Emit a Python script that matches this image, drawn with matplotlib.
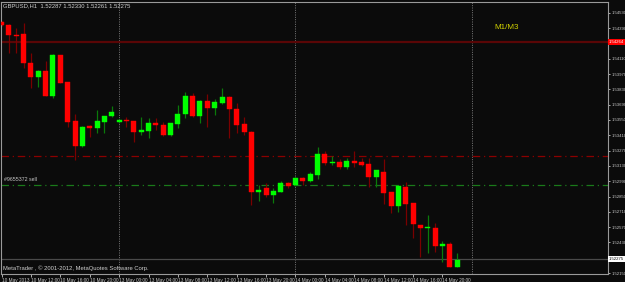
import matplotlib
matplotlib.use("Agg")
import matplotlib.pyplot as plt

plt.rcParams['font.family'] = ['Liberation Sans Narrow', 'Liberation Sans', 'DejaVu Sans']

# GBPUSD H1 bars, 10 May 2013 08:00 .. 14 May 2013 22:00
opens = [1.54449, 1.54422, 1.54330, 1.54334, 1.54074, 1.53943, 1.53998, 1.53772, 1.54145, 1.53895,
         1.53541, 1.53309, 1.53489, 1.53480, 1.53532, 1.53584, 1.53536, 1.53547, 1.53541, 1.53437,
         1.53452, 1.53520, 1.53504, 1.53413, 1.53516, 1.53602, 1.53772, 1.53589, 1.53724, 1.53657,
         1.53706, 1.53760, 1.53651, 1.53516, 1.53443, 1.52891, 1.52925, 1.52864, 1.52891, 1.52974,
         1.52955, 1.53017, 1.52992, 1.53047, 1.53236, 1.53157, 1.53163, 1.53120, 1.53175, 1.53168,
         1.53150, 1.53028, 1.53077, 1.52888, 1.52763, 1.52940, 1.52788, 1.52586, 1.52562, 1.52559,
         1.52394, 1.52415, 1.52208]
highs = [1.54456, 1.54424, 1.54392, 1.54435, 1.54160, 1.54007, 1.54090, 1.54151, 1.54148, 1.53897,
         1.53605, 1.53495, 1.53504, 1.53641, 1.53591, 1.53678, 1.53562, 1.53575, 1.53544, 1.53575,
         1.53565, 1.53565, 1.53534, 1.53525, 1.53687, 1.53803, 1.53800, 1.53733, 1.53788, 1.53742,
         1.53843, 1.53765, 1.53703, 1.53575, 1.53445, 1.52955, 1.52976, 1.52931, 1.52995, 1.52985,
         1.53031, 1.53028, 1.53077, 1.53306, 1.53266, 1.53221, 1.53190, 1.53200, 1.53269, 1.53200,
         1.53200, 1.53092, 1.53193, 1.52891, 1.52958, 1.52985, 1.52791, 1.52589, 1.52681, 1.52605,
         1.52446, 1.52431, 1.52330]
lows = [1.54410, 1.54166, 1.54166, 1.54029, 1.53846, 1.53855, 1.53770, 1.53749, 1.53889, 1.53483,
        1.53184, 1.53303, 1.53392, 1.53434, 1.53434, 1.53577, 1.53520, 1.53489, 1.53351, 1.53413,
        1.53388, 1.53458, 1.53408, 1.53406, 1.53480, 1.53565, 1.53577, 1.53520, 1.53489, 1.53596,
        1.53696, 1.53383, 1.53428, 1.53413, 1.52772, 1.52812, 1.52845, 1.52793, 1.52887, 1.52925,
        1.52946, 1.52955, 1.52983, 1.53007, 1.53138, 1.53138, 1.53099, 1.53099, 1.53123, 1.53129,
        1.52934, 1.52940, 1.52781, 1.52696, 1.52711, 1.52589, 1.52468, 1.52294, 1.52336, 1.52345,
        1.52253, 1.52205, 1.52205]
closes = [1.54419, 1.54328, 1.54321, 1.54074, 1.53946, 1.53998, 1.53772, 1.54145, 1.53891, 1.53534,
          1.53315, 1.53486, 1.53481, 1.53538, 1.53587, 1.53623, 1.53544, 1.53538, 1.53437, 1.53458,
          1.53520, 1.53507, 1.53413, 1.53520, 1.53608, 1.53772, 1.53584, 1.53724, 1.53657, 1.53712,
          1.53760, 1.53651, 1.53504, 1.53443, 1.52894, 1.52907, 1.52864, 1.52900, 1.52974, 1.52949,
          1.53017, 1.52992, 1.53053, 1.53236, 1.53157, 1.53168, 1.53120, 1.53175, 1.53157, 1.53138,
          1.53028, 1.53090, 1.52882, 1.52763, 1.52949, 1.52781, 1.52598, 1.52559, 1.52568, 1.52397,
          1.52418, 1.52208, 1.52272]

time_labels = ["10 May 2013", "10 May 12:00", "10 May 16:00", "10 May 20:00",
               "13 May 00:00", "13 May 04:00", "13 May 08:00", "13 May 12:00",
               "13 May 16:00", "13 May 20:00", "14 May 00:00", "14 May 04:00",
               "14 May 08:00", "14 May 12:00", "14 May 16:00", "14 May 20:00"]
time_bars = [0, 4, 8, 12, 16, 20, 24, 28, 32, 36, 40, 44, 48, 52, 56, 60]
day_breaks = [16, 40, 64]

price_ticks = [1.52150, 1.52430, 1.52570, 1.52710, 1.52850, 1.52990, 1.53130, 1.53270,
               1.53410, 1.53550, 1.53690, 1.53830, 1.53970, 1.54110, 1.54390, 1.54530]

take_profit = 1.54264
order_open = 1.53221
stop_level = 1.52955
bid = 1.52275

bg = "#0b0b0b"
fig = plt.figure(figsize=(6.25, 2.82), dpi=100, facecolor=bg)
ax = fig.add_axes([1 / 625, 8 / 282, 607 / 625, 272.5 / 282])
ax.set_facecolor(bg)
ax.set_xlim(-0.07, 82.52)
ax.set_ylim(1.52141, 1.54634)

for sp in ax.spines.values():
    sp.set_color("#9a9a9a")
    sp.set_linewidth(0.8)

# day separators
for d in day_breaks:
    ax.axvline(d, color="#8a8a8a", lw=0.6, ls=(0, (1.2, 1.6)), zorder=1)

# order levels
ax.axhline(take_profit, color="#5a0606", lw=1.6, zorder=1)
ax.axhline(order_open, color="#8b0000", lw=0.9, ls=(0, (6, 3, 1, 3)), zorder=1)
ax.axhline(stop_level, color="#1a7a1a", lw=0.9, ls=(0, (6, 3, 1, 3)), zorder=1)
ax.axhline(bid, color="#4a4a4a", lw=0.9, zorder=1)

# candles
for i in range(len(opens)):
    o, h, l, c = opens[i], highs[i], lows[i], closes[i]
    up = c >= o
    wick = "#0a7a0a" if up else "#7a0000"
    body = "#00ff00" if up else "#ff0000"
    ax.vlines(i, l, h, color=wick, lw=0.9, zorder=2)
    lo = min(o, c)
    hgt = max(abs(c - o), 0.00011)
    ax.bar(i, hgt, bottom=lo, width=0.68, color=body, edgecolor=body, lw=0.3, zorder=3)

# axes ticks
ax.yaxis.tick_right()
ax.set_yticks(price_ticks)
ax.set_yticklabels(["%.5f" % p for p in price_ticks])
ax.tick_params(axis="y", colors="#c8c8c8", labelsize=3.1, length=1.5, width=0.6, pad=0.8)
ax.set_xticks(time_bars)
ax.set_xticklabels(time_labels, ha="left")
ax.tick_params(axis="x", colors="#c8c8c8", labelsize=3.4, length=2, width=0.6, pad=0.8)

# price markers
ax.text(1.0012, take_profit, "%.5f" % take_profit, transform=ax.get_yaxis_transform(),
        fontsize=3.1, color="#ffffff", va="center", ha="left",
        bbox=dict(boxstyle="square,pad=0.25", fc="#ff0000", ec="none"))
ax.text(1.0012, bid, "%.5f" % bid, transform=ax.get_yaxis_transform(),
        fontsize=3.1, color="#000000", va="center", ha="left",
        bbox=dict(boxstyle="square,pad=0.25", fc="#ffffff", ec="none"))

# texts
ax.text(0.004, 0.993, "GBPUSD,H1  1.52287 1.52330 1.52261 1.52275", transform=ax.transAxes,
        fontsize=4.2, color="#d0d0d0", va="top", ha="left")
ax.text(0.004, 0.012, "MetaTrader , \u00a9 2001-2012, MetaQuotes Software Corp.", transform=ax.transAxes,
        fontsize=4.2, color="#d0d0d0", va="bottom", ha="left")
ax.text(0.4, stop_level + 0.00030, "#9655372 sell", fontsize=3.8, color="#c8c8c8",
        va="bottom", ha="left")
ax.text(67.1, 1.54392, "M1/M3", fontsize=5.8, color="#d2d200", va="center", ha="left")

fig.savefig("out.png", dpi=100, facecolor=bg)
